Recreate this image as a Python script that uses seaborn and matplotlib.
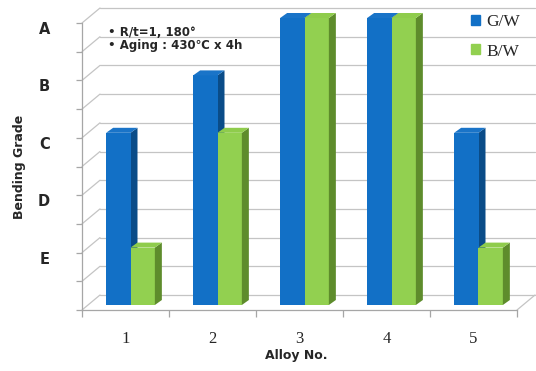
import numpy as np
import pandas as pd
import matplotlib
matplotlib.use('Agg')
import matplotlib.pyplot as plt
import seaborn as sns
from matplotlib.transforms import ScaledTranslation, IdentityTransform
from matplotlib.patches import Polygon
from matplotlib.lines import Line2D

# ---- data ----
alloys = ['1', '2', '3', '4', '5']
series = ['G/W', 'B/W']
gw_grade = [6, 8, 10, 10, 6]     # C, B, A, A, C
bw_grade = [2, 6, 10, 10, 2]     # E, C, A, A, E
grade_values = [2, 4, 6, 8, 10]
grade_labels = ['E', 'D', 'C', 'B', 'A']
note_lines = ['• R/t=1, 180°', '• Aging : 430℃ x 4h']

df = pd.DataFrame({
    'Alloy No.': alloys * 2,
    'grade': gw_grade + bw_grade,
    'series': [series[0]] * len(alloys) + [series[1]] * len(alloys),
})

sns.set_style('white')
plt.rcParams['font.family'] = ['DejaVu Sans']

W, H, DPI = 536, 371, 100
fig = plt.figure(figsize=(W / DPI, H / DPI), dpi=DPI)
fig.patch.set_facecolor('white')
ax = fig.add_axes([82 / W, 1 - 310 / H, (517 - 82) / W, (310 - 23) / H])
ax.set_facecolor('none')

front = {'G/W': '#1270c6', 'B/W': '#92d050'}
side = {'G/W': '#0a4c88', 'B/W': '#5e8c2c'}
top = {'G/W': '#1a74c8', 'B/W': '#8fcc4c'}

sns.barplot(data=df, x='Alloy No.', y='grade', hue='series', palette=front,
            width=0.56, saturation=1, ax=ax, legend=False)
ax.set_xlim(-0.5, 4.5)
ax.set_ylim(0, 10)

grid_c = '#c4c4c4'
# back wall offset (3D look)
wall_dx, wall_dy = 18, 15
wall = ax.transData + ScaledTranslation(wall_dx / DPI, wall_dy / DPI, fig.dpi_scale_trans)
for k in range(11):
    ax.plot([-0.5, 4.5], [k, k], transform=wall, color=grid_c, lw=0.9,
            zorder=1, clip_on=False)
    a = ax.transData.transform((-0.5, k))
    ax.add_line(Line2D([a[0], a[0] + wall_dx], [a[1], a[1] + wall_dy],
                       transform=IdentityTransform(), color=grid_c, lw=0.9,
                       zorder=1, clip_on=False))
b = ax.transData.transform((4.5, 0))
ax.add_line(Line2D([b[0], b[0] + wall_dx], [b[1], b[1] + wall_dy],
                   transform=IdentityTransform(), color=grid_c, lw=0.9,
                   zorder=1, clip_on=False))

# bars: shift to mid depth and add side/top faces
bar_dx, bar_dy = 5, 5
depth_dx, depth_dy = 7, 5
shift = ScaledTranslation(bar_dx / DPI, bar_dy / DPI, fig.dpi_scale_trans)
for si, cont in enumerate(ax.containers):
    name = series[si]
    z = 3 + si
    for p in cont.patches:
        p.set_transform(ax.transData + shift)
        p.set_clip_on(False)
        p.set_zorder(z)
        p.set_edgecolor('none')
        x0, x1 = p.get_x(), p.get_x() + p.get_width()
        h = p.get_height()
        (X0, Y0) = ax.transData.transform((x0, 0)) + (bar_dx, bar_dy)
        (X1, Y1) = ax.transData.transform((x1, h)) + (bar_dx, bar_dy)
        sidep = Polygon([(X1, Y0), (X1, Y1), (X1 + depth_dx, Y1 + depth_dy),
                         (X1 + depth_dx, Y0 + depth_dy)], closed=True,
                        facecolor=side[name], edgecolor='none', clip_on=False)
        topp = Polygon([(X0, Y1), (X1, Y1), (X1 + depth_dx, Y1 + depth_dy),
                        (X0 + depth_dx, Y1 + depth_dy)], closed=True,
                       facecolor=top[name], edgecolor='none', clip_on=False)
        ax.add_patch(sidep)
        ax.add_patch(topp)
        sidep.set_transform(IdentityTransform())
        topp.set_transform(IdentityTransform())
        sidep.set_zorder(z - 0.5 if si == 0 else z + 0.5)
        topp.set_zorder(z + 0.5)

# axes styling
for s in ['top', 'right']:
    ax.spines[s].set_visible(False)
for s in ['left', 'bottom']:
    ax.spines[s].set_color('#a6a6a6')
    ax.spines[s].set_linewidth(0.9)

ax.set_yticks(grade_values, grade_labels)
ax.set_yticks(range(11), minor=True)
ax.tick_params(axis='y', which='both', left=True, length=4, color='#a6a6a6', width=0.9)
ax.tick_params(axis='y', which='major', pad=19, labelsize=10.5, labelcolor='#262626')
for lab in ax.get_yticklabels():
    lab.set_fontweight('bold')
    lab.set_transform(lab.get_transform() + ScaledTranslation(0, -5 / DPI, fig.dpi_scale_trans))

ax.set_xticks(range(len(alloys)), alloys)
ax.set_xticks(np.arange(-0.5, len(alloys), 1.0), minor=True)
ax.tick_params(axis='x', which='major', bottom=True, length=0, pad=15,
               labelsize=12, labelcolor='#262626')
ax.tick_params(axis='x', which='minor', bottom=True, length=5, color='#a6a6a6', width=0.9)
for lab in ax.get_xticklabels():
    lab.set_fontfamily('Liberation Serif')
ax.set_xlabel('')
ax.set_ylabel('')

fig.text(20 / W, 1 - 167 / H, 'Bending Grade', rotation=90, ha='center', va='center',
         fontsize=9, fontweight='bold', color='#262626')
fig.text(296 / W, 1 - 355 / H, 'Alloy No.', ha='center', va='center',
         fontsize=9, fontweight='bold', color='#262626')
fig.text(108 / W, 1 - 33 / H, note_lines[0], ha='left', va='center',
         fontsize=8.5, fontweight='bold', color='#262626')
fig.text(108 / W, 1 - 45 / H, note_lines[1], ha='left', va='center',
         fontsize=8.5, fontweight='bold', color='#262626')

handles = [plt.Rectangle((0, 0), 1, 1, color=front[s]) for s in series]
ax.legend(handles, series, loc='upper left', bbox_to_anchor=(471 / W, 1 - 14 / H),
          bbox_transform=fig.transFigure, frameon=False,
          prop={'family': 'Liberation Serif', 'size': 12.5},
          handlelength=0.5, handleheight=0.5, handletextpad=0.4,
          labelspacing=0.78, borderpad=0, borderaxespad=0)

fig.savefig('out.png', dpi=DPI)
